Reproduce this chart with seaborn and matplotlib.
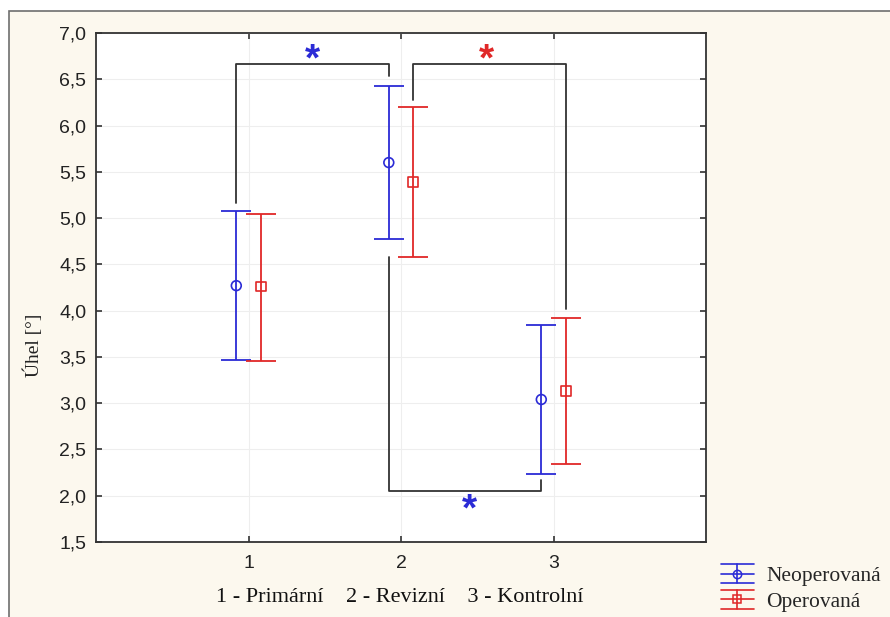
import numpy as np
import pandas as pd
import matplotlib
matplotlib.use("Agg")
import matplotlib.pyplot as plt
from matplotlib.patches import Rectangle
from matplotlib.lines import Line2D
from matplotlib.legend_handler import HandlerBase
import seaborn as sns

# ---- data ----
groups = [1, 2, 3]
xtick_labels = ["1", "2", "3"]
series = ["Neoperovaná", "Operovaná"]
neo_mean = [4.27, 5.60, 3.04]
neo_low = [3.47, 4.77, 2.24]
neo_high = [5.08, 6.43, 3.85]
ope_mean = [4.26, 5.39, 3.13]
ope_low = [3.46, 4.58, 2.34]
ope_high = [5.04, 6.20, 3.92]
yticks = [1.5, 2.0, 2.5, 3.0, 3.5, 4.0, 4.5, 5.0, 5.5, 6.0, 6.5, 7.0]
group_caption = "1 - Primární    2 - Revizní    3 - Kontrolní"
y_label = "Úhel [°]"

BLUE = "#2b2bd6"
RED = "#e02828"
BG = "#fcf8ee"
offset = 0.08

df = pd.DataFrame({
    "x": [g - offset for g in groups] + [g + offset for g in groups],
    "mean": neo_mean + ope_mean,
    "low": neo_low + ope_low,
    "high": neo_high + ope_high,
    "series": [series[0]] * 3 + [series[1]] * 3,
})

sns.set_theme(style="white")
plt.rcParams["font.family"] = ["Liberation Sans", "DejaVu Sans"]

fig = plt.figure(figsize=(8.9, 6.17), dpi=100, facecolor="white")
W, H = 890, 617
# cream panel with border
fig.patches.append(Rectangle((9 / W, -0.1), 1.2, 0.1 + (H - 11) / H, transform=fig.transFigure,
                             facecolor=BG, edgecolor="#6e6e6e", linewidth=1.2, zorder=-5))

ax = fig.add_axes([96 / W, 1 - 542 / H, (706 - 96) / W, (542 - 33) / H])
ax.set_zorder(2)
ax.set_facecolor("white")

colors = {series[0]: BLUE, series[1]: RED}
markers = {series[0]: "o", series[1]: "s"}
for s in series:
    d = df[df["series"] == s]
    ax.errorbar(d["x"], d["mean"],
                yerr=[d["mean"] - d["low"], d["high"] - d["mean"]],
                fmt="none", ecolor=colors[s], elinewidth=1.3, capsize=11, capthick=1.3, zorder=3)
sns.scatterplot(data=df, x="x", y="mean", hue="series", style="series",
                palette=colors, markers=markers, s=50,
                linewidth=1.2, ax=ax, legend=False, zorder=4)
# make markers hollow
for coll in ax.collections:
    fc = coll.get_facecolors()
    if len(fc) and coll.get_offsets().shape[0] == len(df):
        coll.set_edgecolors(fc)
        coll.set_facecolors("none")

ax.set_xlim(0, 4)
ax.set_ylim(1.5, 7.0)
ax.set_xticks(groups)
ax.set_xticklabels(xtick_labels)
ax.set_yticks(yticks)
ax.set_yticklabels([f"{v:.1f}".replace(".", ",") for v in yticks])
ax.set_xlabel("")
ax.set_ylabel("")
ax.grid(True, color="#eeeeee", linewidth=0.8)
ax.set_axisbelow(True)
for sp in ax.spines.values():
    sp.set_visible(True)
    sp.set_color("#333333")
    sp.set_linewidth(1.3)
ax.tick_params(axis="both", direction="in", length=4, width=1.2, color="#333333",
               top=True, right=True, bottom=True, left=True,
               labelsize=14, labelcolor="#222222", pad=7)
ax.tick_params(axis="x", pad=9)

# significance brackets
bk = dict(color="#333333", linewidth=1.3, zorder=2)
ax.plot([1 - offset, 1 - offset, 2 - offset, 2 - offset], [5.16, 6.66, 6.66, 6.53], **bk)
ax.plot([2 + offset, 2 + offset, 3 + offset, 3 + offset], [6.28, 6.66, 6.66, 4.02], **bk)
ax.plot([2 - offset, 2 - offset, 3 - offset, 3 - offset], [4.58, 2.05, 2.05, 2.17], **bk)
ast = dict(fontsize=28, fontweight="bold", ha="center", va="center")
ax.text(1.42, 6.70, "*", color=BLUE, **ast)
ax.text(2.56, 6.70, "*", color=RED, **ast)
ax.text(2.45, 1.84, "*", color=BLUE, **ast)

# labels
fig.text(33 / W, 1 - 345 / H, y_label, rotation=90, ha="center", va="center",
         fontsize=14, family=["Liberation Serif", "DejaVu Serif"], color="#222222")
fig.text(400 / W, 1 - 598 / H, group_caption, ha="center", va="center",
         fontsize=16, family=["Liberation Serif", "DejaVu Serif"], color="#111111")


class ErrHandler(HandlerBase):
    def __init__(self, color, marker):
        super().__init__()
        self.color = color
        self.marker = marker

    def create_artists(self, legend, orig_handle, xdescent, ydescent, width, height, fontsize, trans):
        c = self.color
        arts = []
        yc = height / 2 - ydescent
        d = 7.0
        for yy in (yc - d, yc, yc + d):
            arts.append(Line2D([-xdescent, -xdescent + width], [yy, yy], color=c, lw=1.2, transform=trans))
        xm = -xdescent + width / 2
        arts.append(Line2D([xm, xm], [yc - d, yc + d], color=c, lw=1.2, transform=trans))
        arts.append(Line2D([xm], [yc], marker=self.marker, ms=6, mfc="none", mec=c, mew=1.1,
                           color=c, transform=trans))
        return arts


h1 = Line2D([], [], color=BLUE)
h2 = Line2D([], [], color=RED)
fig.legend([h1, h2], series, loc="center left", bbox_to_anchor=(717 / W, 1 - 589 / H),
           frameon=False, handler_map={h1: ErrHandler(BLUE, "o"), h2: ErrHandler(RED, "s")},
           handlelength=1.5, handletextpad=0.6, labelspacing=0.25, borderpad=0.2, borderaxespad=0,
           prop={"family": ["Liberation Serif", "DejaVu Serif"], "size": 15.5})

fig.savefig("out.png", dpi=100, facecolor=fig.get_facecolor())
